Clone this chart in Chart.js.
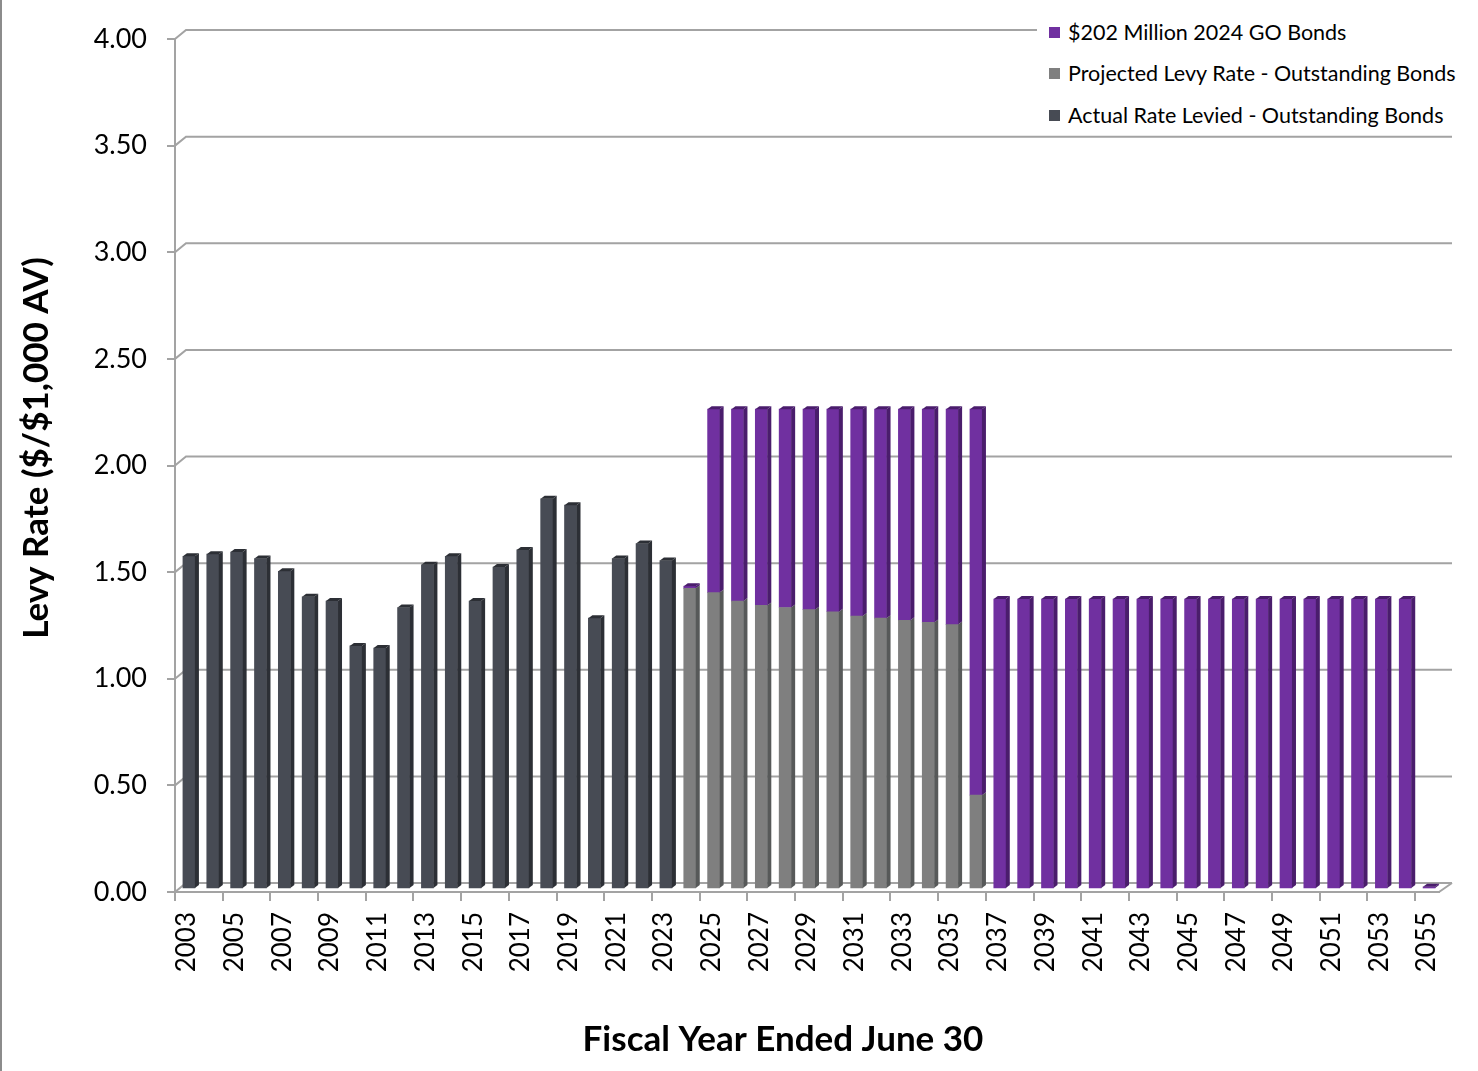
<!DOCTYPE html>
<html>
<head>
<meta charset="utf-8">
<script src="https://cdn.jsdelivr.net/npm/chart.js@4.4.1/dist/chart.umd.min.js"></script>
<style>
  html, body { margin: 0; padding: 0; background: #ffffff; }
  #wrap { position: relative; width: 1478px; height: 1071px; overflow: hidden; }
  #edge { position: absolute; left: 0; top: 0; width: 2px; height: 1071px; background: #8c8c8c; }
  #legend { position: absolute; left: 1037px; top: 14px; width: 441px; height: 121px; background: #ffffff;
            font-family: Lato, "Open Sans", sans-serif; font-size: 21.5px; color: #000; }
  .row { position: absolute; left: 0; height: 24px; line-height: 24px; white-space: nowrap; }
  .sw { position: absolute; left: 12px; top: 7px; width: 11px; height: 11px; }
  .tx { position: absolute; left: 31px; top: 0; }
</style>
</head>
<body>
<div id="wrap">
  <canvas id="c" width="1478" height="1071"></canvas>
  <div id="edge"></div>
  <div id="legend"></div>
</div>
<script>
// Fiscal years on the category axis
const years = [
  '2003','2004','2005','2006','2007','2008','2009','2010','2011','2012',
  '2013','2014','2015','2016','2017','2018','2019','2020','2021','2022',
  '2023','2024','2025','2026','2027','2028','2029','2030','2031','2032',
  '2033','2034','2035','2036','2037','2038','2039','2040','2041','2042',
  '2043','2044','2045','2046','2047','2048','2049','2050','2051','2052',
  '2053','2054','2055'
];

// Actual rate levied on outstanding bonds ($ per $1,000 AV)
const actualRate = [
  1.56, 1.57, 1.58, 1.55, 1.49, 1.37, 1.35, 1.14, 1.13, 1.32,
  1.52, 1.56, 1.35, 1.51, 1.59, 1.83, 1.80, 1.27, 1.55, 1.62,
  1.54, null, null, null, null, null, null, null, null, null,
  null, null, null, null, null, null, null, null, null, null,
  null, null, null, null, null, null, null, null, null, null,
  null, null, null
];

// Projected levy rate on outstanding bonds
const projectedRate = [
  null, null, null, null, null, null, null, null, null, null,
  null, null, null, null, null, null, null, null, null, null,
  null, 1.41, 1.39, 1.35, 1.33, 1.32, 1.31, 1.30, 1.28, 1.27,
  1.26, 1.25, 1.24, 0.44, null, null, null, null, null, null,
  null, null, null, null, null, null, null, null, null, null,
  null, null, null
];

// $202 Million 2024 GO Bonds
const newBondRate = [
  null, null, null, null, null, null, null, null, null, null,
  null, null, null, null, null, null, null, null, null, null,
  null, 0.01, 0.86, 0.90, 0.92, 0.93, 0.94, 0.95, 0.97, 0.98,
  0.99, 1.00, 1.01, 1.81, 1.36, 1.36, 1.36, 1.36, 1.36, 1.36,
  1.36, 1.36, 1.36, 1.36, 1.36, 1.36, 1.36, 1.36, 1.36, 1.36,
  1.36, 1.36, 0.01
];

// Y-axis tick values
const yTicks = [0, 0.5, 1.0, 1.5, 2.0, 2.5, 3.0, 3.5, 4.0];

const seriesNames = [
  'Actual Rate Levied - Outstanding Bonds',
  'Projected Levy Rate - Outstanding Bonds',
  '$202 Million 2024 GO Bonds'
];
const frontColors = ['#474b54', '#7f7f7f', '#7030a0'];
const sideColors  = ['#2c2f35', '#575959', '#4a1d6c'];

const FONT = 'Lato, "Open Sans", sans-serif';
const GRID = '#a3a3a3';

// Depth offsets for the pseudo-3D look
const WALL_DX = 11, WALL_DY = -9;   // back wall relative to axis plane
const BAR_DX = 2, BAR_DY = -3;      // bar plane relative to axis plane
const FACE_DX = 4, FACE_DY = -3;    // side/top face depth of each bar

// Back-wall gridlines, floor edge, bar faces and axis titles
const wallPlugin = {
  id: 'wall',
  beforeDatasetsDraw(chart) {
    const { ctx, chartArea } = chart;
    const ys = chart.scales.y;
    ctx.save();
    ctx.strokeStyle = GRID;
    ctx.lineWidth = 2;
    const farRight = chartArea.right + WALL_DX + 2;
    yTicks.forEach(v => {
      const py = ys.getPixelForValue(v);
      ctx.beginPath();
      ctx.moveTo(chartArea.left, py);
      ctx.lineTo(chartArea.left + WALL_DX, py + WALL_DY);
      ctx.lineTo(farRight, py + WALL_DY);
      ctx.stroke();
    });
    ctx.beginPath();
    ctx.moveTo(chartArea.right, chartArea.bottom);
    ctx.lineTo(farRight, chartArea.bottom + WALL_DY);
    ctx.stroke();
    ctx.restore();

    // shift the bar plane back a little
    ctx.save();
    ctx.translate(BAR_DX, BAR_DY);
  },
  afterDatasetsDraw(chart) {
    const { ctx } = chart;
    const n = years.length;
    const topSeries = new Array(n).fill(-1);
    chart.data.datasets.forEach((ds, i) => {
      ds.data.forEach((v, j) => { if (v) topSeries[j] = i; });
    });
    chart.data.datasets.forEach((ds, i) => {
      const meta = chart.getDatasetMeta(i);
      meta.data.forEach((bar, j) => {
        if (!ds.data[j]) return;
        const p = bar.getProps(['x', 'y', 'base', 'width'], true);
        const l = p.x - p.width / 2, r = p.x + p.width / 2;
        ctx.fillStyle = sideColors[i];
        ctx.beginPath();
        ctx.moveTo(r, p.y);
        ctx.lineTo(r + FACE_DX, p.y + FACE_DY);
        ctx.lineTo(r + FACE_DX, p.base + FACE_DY);
        ctx.lineTo(r, p.base);
        ctx.closePath();
        ctx.fill();
        if (topSeries[j] === i) {
          ctx.beginPath();
          ctx.moveTo(l, p.y);
          ctx.lineTo(l + FACE_DX, p.y + FACE_DY);
          ctx.lineTo(r + FACE_DX, p.y + FACE_DY);
          ctx.lineTo(r, p.y);
          ctx.closePath();
          ctx.fill();
        }
      });
    });
    ctx.restore();
  },
  afterDraw(chart) {
    const { ctx } = chart;
    ctx.save();
    ctx.fillStyle = '#000';
    ctx.font = 'bold 35px ' + FONT;
    ctx.textAlign = 'center';
    ctx.textBaseline = 'middle';
    ctx.fillText('Fiscal Year Ended June 30', 783, 1040);
    ctx.translate(37, 448);
    ctx.rotate(-Math.PI / 2);
    ctx.fillText('Levy Rate ($/$1,000 AV)', 0, 0);
    ctx.restore();
  }
};

const chart = new Chart(document.getElementById('c'), {
  type: 'bar',
  data: {
    labels: years,
    datasets: [
      { label: seriesNames[0], data: actualRate,    backgroundColor: frontColors[0] },
      { label: seriesNames[1], data: projectedRate, backgroundColor: frontColors[1] },
      { label: seriesNames[2], data: newBondRate,   backgroundColor: frontColors[2] }
    ]
  },
  options: {
    responsive: false,
    animation: false,
    devicePixelRatio: 1,
    layout: { padding: { left: 0, top: 39, right: 39, bottom: 0 } },
    datasets: { bar: { barThickness: 12, borderWidth: 0 } },
    plugins: { legend: { display: false }, tooltip: { enabled: false } },
    scales: {
      x: {
        stacked: true,
        offset: true,
        border: { display: true, color: GRID, width: 2 },
        grid: {
          offset: true,
          drawOnChartArea: false,
          drawTicks: true,
          tickLength: 9,
          lineWidth: 2,
          color: ctx => (ctx.index % 2 === 0 ? GRID : 'rgba(0,0,0,0)')
        },
        ticks: {
          autoSkip: false,
          minRotation: 90,
          maxRotation: 90,
          padding: 11,
          color: '#000',
          font: { family: FONT, size: 26 },
          callback: (v, i) => (i % 2 === 0 ? years[i] : '')
        },
        afterFit: s => { s.height = 179; }
      },
      y: {
        stacked: true,
        min: 0,
        max: 4,
        border: { display: true, color: GRID, width: 2 },
        grid: { drawOnChartArea: false, drawTicks: true, tickLength: 8, lineWidth: 2, color: GRID },
        ticks: {
          stepSize: 0.5,
          padding: 20,
          color: '#000',
          font: { family: FONT, size: 27 },
          callback: v => v.toFixed(2)
        },
        afterFit: s => { s.width = 175; }
      }
    }
  },
  plugins: [wallPlugin]
});

// Legend, top series first
const legend = document.getElementById('legend');
const rowsTop = [6, 47, 89];
[2, 1, 0].forEach((k, r) => {
  const row = document.createElement('div');
  row.className = 'row';
  row.style.top = rowsTop[r] + 'px';
  const sw = document.createElement('span');
  sw.className = 'sw';
  sw.style.background = frontColors[k];
  const tx = document.createElement('span');
  tx.className = 'tx';
  tx.textContent = seriesNames[k];
  row.appendChild(sw);
  row.appendChild(tx);
  legend.appendChild(row);
});
</script>
</body>
</html>
